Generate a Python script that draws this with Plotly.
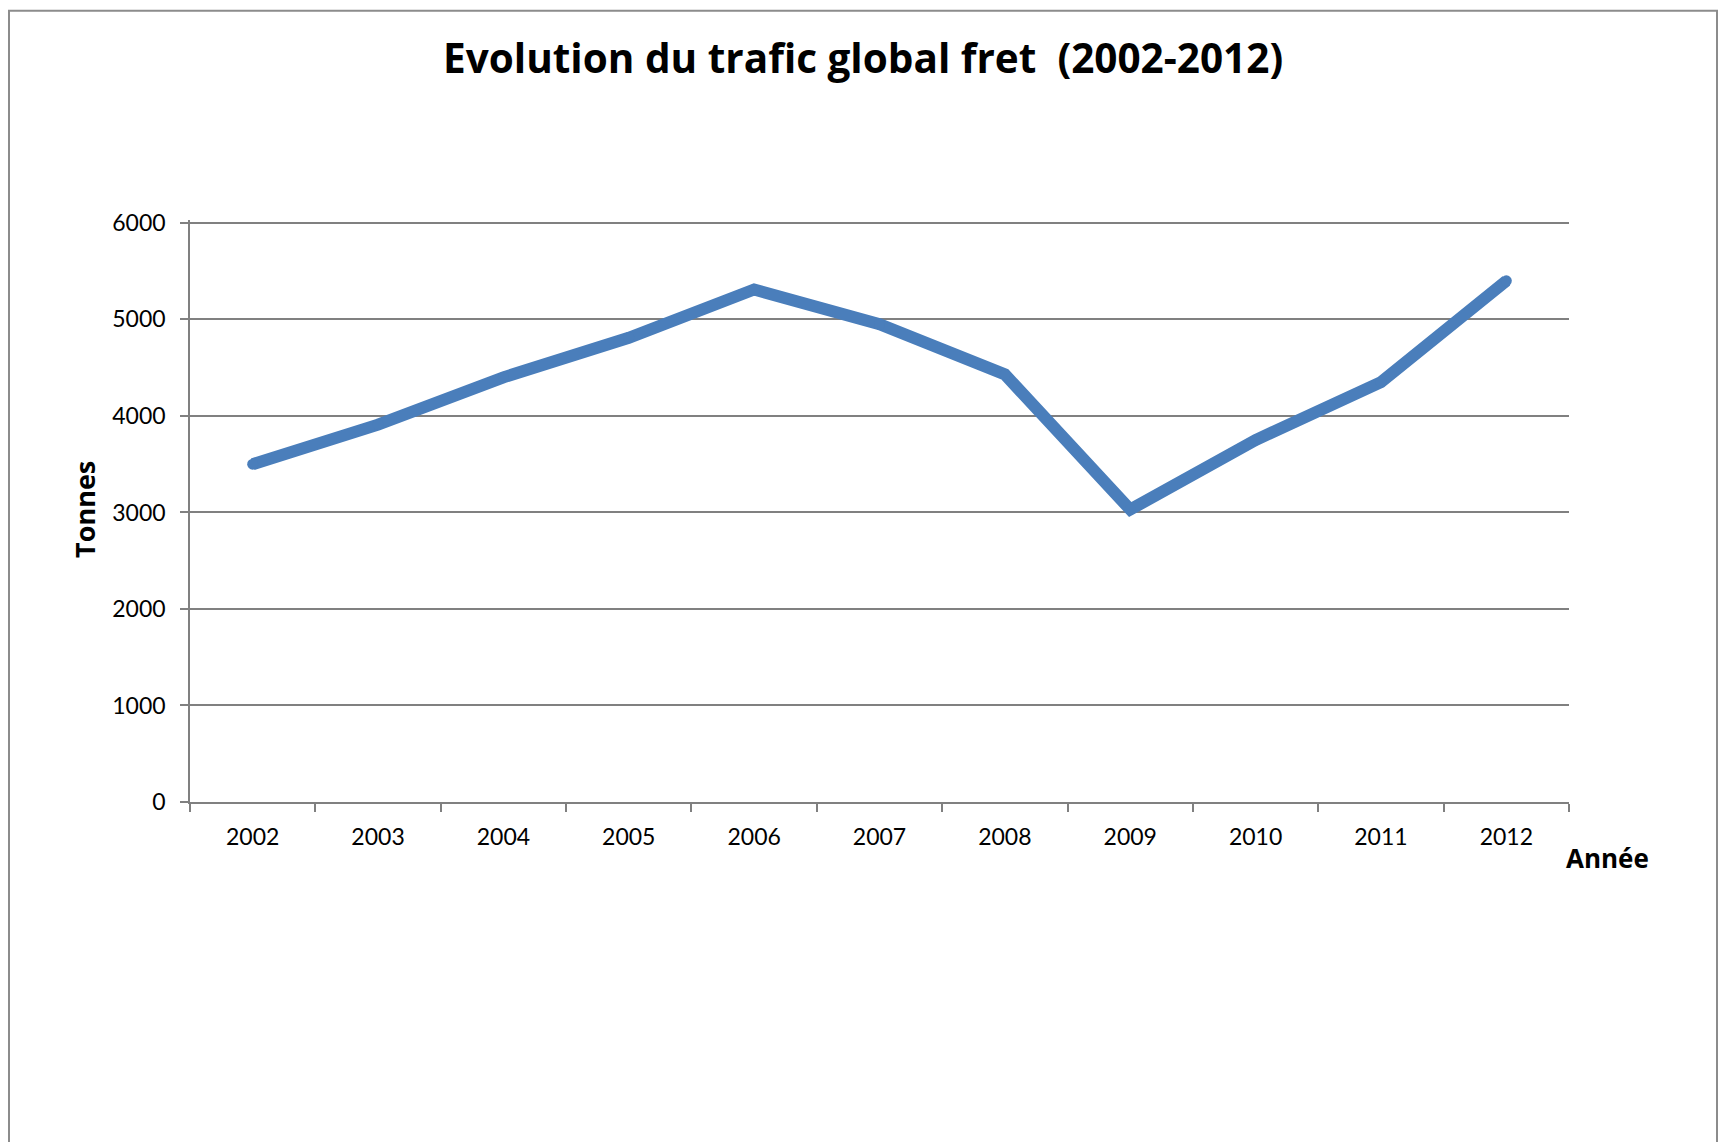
import plotly.graph_objects as go

years = ["2002", "2003", "2004", "2005", "2006", "2007", "2008", "2009", "2010", "2011", "2012"]
tonnes = [3500, 3910, 4400, 4810, 5310, 4950, 4430, 3030, 3750, 4350, 5400]
y_ticks = [0, 1000, 2000, 3000, 4000, 5000, 6000]

O = 8  # page body margin offset
W, H = 1727 - O, 1142 - O
YMAX = 6030
L, R, B = 190, 1569, 802            # reference pixel positions of plot area
T = B - (B - 223) * YMAX / 6000     # so that 6000 sits at y=223
pw, ph = R - L, B - T

def px(x):
    return (x - L) / pw

def py(y):
    return (B - y) / ph

blue = "#4A7EBB"
grey = "#808080"
font = "Lato"
bfont = "Open Sans"

fig = go.Figure()
fig.add_trace(go.Scatter(
    x=years, y=tonnes, mode="lines+markers",
    line=dict(color=blue, width=12),
    marker=dict(color=blue, size=11),
    hoverinfo="x+y", showlegend=False,
))

fig.update_layout(
    width=W, height=H,
    margin=dict(l=L - O, r=W - (R - O), t=T - O, b=H - (B - O)),
    paper_bgcolor="white", plot_bgcolor="white",
    font=dict(family=font, color="black", size=23),
    xaxis=dict(
        type="category", range=[-0.5, len(years) - 0.5],
        showgrid=False, showline=True, linecolor=grey, linewidth=1.6,
        ticks="outside", tickson="boundaries", ticklen=8, tickcolor=grey, tickwidth=1.5,
        tickfont=dict(family=font, size=23, color="black"),
        ticklabelstandoff=14,
        zeroline=False, fixedrange=True,
    ),
    yaxis=dict(
        range=[0, YMAX], tickvals=y_ticks, ticktext=[str(v) for v in y_ticks],
        showgrid=True, gridcolor=grey, gridwidth=1.6,
        showline=True, linecolor=grey, linewidth=1.6,
        ticks="outside", ticklen=8, tickcolor=grey, tickwidth=1.5,
        tickfont=dict(family=font, size=23, color="black"),
        ticklabelstandoff=10,
        zeroline=False, fixedrange=True,
    ),
    annotations=[
        dict(text="<b>Evolution du trafic global fret  (2002-2012)</b>", xref="paper", yref="paper",
             x=px(863), y=py(58), xanchor="center", yanchor="middle", showarrow=False,
             font=dict(family=bfont, size=40.5, color="black")),
        dict(text="<b>Tonnes</b>", xref="paper", yref="paper",
             x=px(85), y=py(509), xanchor="center", yanchor="middle", showarrow=False,
             textangle=-90, font=dict(family=bfont, size=27, color="black")),
        dict(text="<b>Année</b>", xref="paper", yref="paper",
             x=px(1607), y=py(858), xanchor="center", yanchor="middle", showarrow=False,
             font=dict(family=bfont, size=26, color="black")),
    ],
    shapes=[
        dict(type="rect", xref="paper", yref="paper",
             x0=px(9), x1=px(1717), y0=py(1160), y1=py(11),
             line=dict(color="#8c8c8c", width=2), fillcolor="rgba(0,0,0,0)", layer="below"),
    ],
)

fig.write_html("out.html")
